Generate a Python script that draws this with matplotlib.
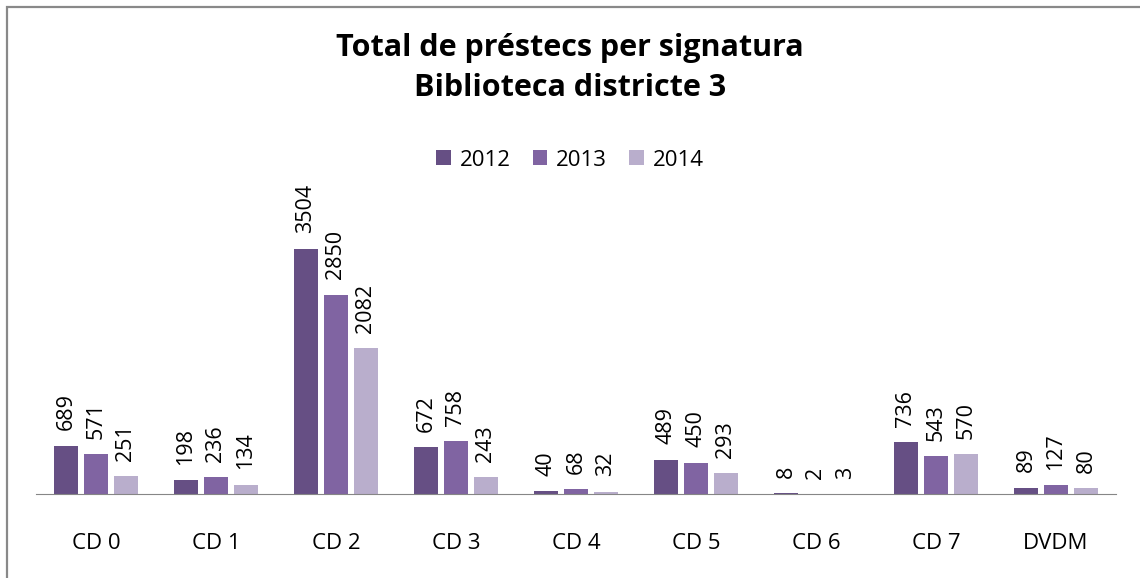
import numpy as np
import matplotlib.pyplot as plt
from matplotlib.patches import Rectangle

# data
categories = ['CD 0', 'CD 1', 'CD 2', 'CD 3', 'CD 4', 'CD 5', 'CD 6', 'CD 7', 'DVDM']
years = ['2012', '2013', '2014']
loans_2012 = [689, 198, 3504, 672, 40, 489, 8, 736, 89]
loans_2013 = [571, 236, 2850, 758, 68, 450, 2, 543, 127]
loans_2014 = [251, 134, 2082, 243, 32, 293, 3, 570, 80]
colors = ['#664f84', '#8064a2', '#b9aecc']

plt.rcParams['font.family'] = ['Open Sans', 'DejaVu Sans']

fig = plt.figure(figsize=(11.4, 5.78), dpi=100)
# outer border like the excel chart area (right / bottom edges fall outside the image)
fig.patches.append(Rectangle((6.5 / 1140, -0.05), 1.2, 1 - 6.5 / 578 + 0.05, transform=fig.transFigure,
                             fill=False, ec='#898989', lw=1.6))

ax = fig.add_axes([36 / 1140, (578 - 494) / 578, 1080 / 1140, 280 / 578])
x = np.arange(len(categories))
series = [loans_2012, loans_2013, loans_2014]
for i, (vals, c, yr) in enumerate(zip(series, colors, years)):
    pos = x + (i - 1) * 0.25
    ax.bar(pos, vals, width=0.2, color=c, label=yr)
    for p, v in zip(pos, vals):
        ax.annotate(str(v), (p, v), xytext=(0, 11), textcoords='offset points',
                    rotation=90, ha='center', va='bottom', fontsize=15.5)

ax.set_xlim(-0.5, len(categories) - 0.5)
ax.set_ylim(0, 4000)
ax.set_xticks(x)
ax.set_xticklabels(categories, fontsize=16)
ax.tick_params(axis='x', length=0, pad=28)
ax.set_yticks([])
for s in ['top', 'right', 'left']:
    ax.spines[s].set_visible(False)
ax.spines['bottom'].set_color('#868686')
ax.patch.set_alpha(0)

fig.text(0.5, 1 - 56 / 578, 'Total de préstecs per signatura', ha='center', va='baseline',
         fontsize=22, fontweight='bold')
fig.text(0.5, 1 - 96 / 578, 'Biblioteca districte 3', ha='center', va='baseline',
         fontsize=22, fontweight='bold')
fig.legend(loc='center', bbox_to_anchor=(0.5, 1 - 160 / 578), ncol=3, frameon=False,
           fontsize=16, handlelength=0.65, handleheight=0.65, handletextpad=0.4, columnspacing=1.0)

plt.savefig('out.png', dpi=100)
